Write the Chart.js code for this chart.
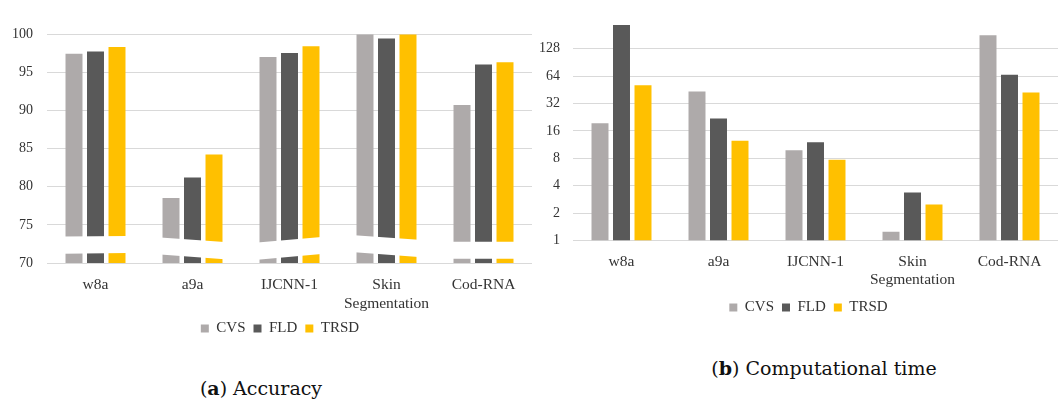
<!DOCTYPE html>
<html>
<head>
<meta charset="utf-8">
<script src="https://cdn.jsdelivr.net/npm/chart.js@4.4.0/dist/chart.umd.min.js"></script>
<style>
  body { margin: 0; background: #fff; width: 1058px; height: 400px; position: relative; overflow: hidden; }
  #accWrap { position: absolute; left: 0; top: 0; }
  #timeWrap { position: absolute; left: 535px; top: 0; }
  .caption { position: absolute; font-family: 'DejaVu Serif', serif; font-size: 19px; color: #111; white-space: nowrap; transform: translate(-50%, -50%); }
</style>
</head>
<body>
<div id="accWrap"><canvas id="acc" width="540" height="346"></canvas></div>
<div id="timeWrap"><canvas id="time" width="523" height="325"></canvas></div>
<div class="caption" style="left:261px; top:388px;">(<b>a</b>) Accuracy</div>
<div class="caption" style="left:824px; top:368px;">(<b>b</b>) Computational time</div>
<script>
// categories and series
const categories = ["w8a", "a9a", "IJCNN-1", ["Skin", "Segmentation"], "Cod-RNA"];
const seriesNames = ["CVS", "FLD", "TRSD"];

// (a) accuracy, %
const accCVS = [97.4, 78.5, 97.0, 99.95, 90.7];
const accFLD = [97.7, 81.2, 97.5, 99.4, 96.0];
const accTRSD = [98.3, 84.2, 98.4, 99.95, 96.3];
const accTicks = [70, 75, 80, 85, 90, 95, 100];

// (b) computational time, log2 axis
const timeCVS = [19.4, 43.4, 9.8, 1.25, 180];
const timeFLD = [234, 21.9, 12.0, 3.36, 66.3];
const timeTRSD = [50.9, 12.5, 7.7, 2.48, 42.4];
const timeTicks = [1, 2, 4, 8, 16, 32, 64, 128];

// axis break on the accuracy bars (value at middle bar, tilt per bar)
const breakLow = [71.25, 70.8, 70.8, 71.1, 70.55];
const breakTilt = [0.03, -0.2, 0.25, -0.2, 0];
const breakGap = 2.25;

const colors = ["#AEAAAA", "#595959", "#FFC000"];

Chart.defaults.font.family = "'Liberation Serif', serif";
Chart.defaults.font.size = 15;
Chart.defaults.color = "#333";

function makeSets(arrs) {
    return arrs.map((d, k) => ({
        label: seriesNames[k],
        data: d,
        backgroundColor: colors[k],
        borderWidth: 0,
        categoryPercentage: 0.665,
        barPercentage: 0.79,
    }));
}

const legendOpts = {
    position: "bottom",
    labels: { boxWidth: 8, boxHeight: 8, padding: 8, color: "#333", font: { size: 15 } },
};

// white slanted band to show the broken axis
const breakPlugin = {
    id: "breakBand",
    afterDatasetsDraw(chart) {
        const ctx = chart.ctx;
        const y = chart.scales.y;
        const m0 = chart.getDatasetMeta(0), m1 = chart.getDatasetMeta(1), m2 = chart.getDatasetMeta(2);
        ctx.save();
        ctx.fillStyle = "#ffffff";
        for (let i = 0; i < categories.length; i++) {
            const left = m0.data[i].x - m0.data[i].width / 2 - 2;
            const right = m2.data[i].x + m2.data[i].width / 2 + 2;
            const cx = m1.data[i].x;
            const slot = m1.data[i].x - m0.data[i].x;
            const f = (px) => breakLow[i] + breakTilt[i] * (px - cx) / slot;
            ctx.beginPath();
            ctx.moveTo(left, y.getPixelForValue(f(left)));
            ctx.lineTo(right, y.getPixelForValue(f(right)));
            ctx.lineTo(right, y.getPixelForValue(f(right) + breakGap));
            ctx.lineTo(left, y.getPixelForValue(f(left) + breakGap));
            ctx.closePath();
            ctx.fill();
        }
        ctx.restore();
    },
};

// nudge legend sideways
const legendShift = (dx) => ({
    id: "legendShift",
    afterLayout(chart) {
        chart.legend.left += dx;
        chart.legend.right += dx;
    },
});

new Chart(document.getElementById("acc"), {
    type: "bar",
    data: { labels: categories, datasets: makeSets([accCVS, accFLD, accTRSD]) },
    plugins: [breakPlugin, legendShift(14)],
    options: {
        responsive: false,
        animation: false,
        layout: { padding: { top: 34, right: 8, left: 0, bottom: 0 } },
        plugins: { legend: legendOpts, tooltip: { enabled: false } },
        scales: {
            x: {
                grid: { display: false },
                border: { display: false },
                ticks: { padding: 5, maxRotation: 0, autoSkip: false, font: { size: 15.5 } },
                afterFit: (s) => { s.height = 50; },
            },
            y: {
                min: 70,
                max: 100,
                afterBuildTicks: (s) => { s.ticks = accTicks.map(v => ({ value: v })); },
                grid: { color: "#D9D9D9", drawTicks: false },
                border: { display: false },
                ticks: { padding: 14, font: { size: 14 } },
                afterFit: (s) => { s.width = 47; },
            },
        },
    },
});

new Chart(document.getElementById("time"), {
    type: "bar",
    data: { labels: categories, datasets: makeSets([timeCVS, timeFLD, timeTRSD]) },
    plugins: [legendShift(12)],
    options: {
        responsive: false,
        animation: false,
        layout: { padding: { top: 9.5, right: 0, left: 0, bottom: 0 } },
        plugins: { legend: legendOpts, tooltip: { enabled: false } },
        scales: {
            x: {
                grid: { display: false },
                border: { display: false },
                ticks: { padding: 4, maxRotation: 0, autoSkip: false, font: { size: 15.5 } },
                afterFit: (s) => { s.height = 51.5; },
            },
            y: {
                type: "logarithmic",
                min: 1,
                max: 256,
                afterBuildTicks: (s) => { s.ticks = timeTicks.map(v => ({ value: v })); },
                grid: { color: "#D9D9D9", drawTicks: false },
                border: { display: false },
                ticks: { padding: 13, font: { size: 14 }, callback: (v) => String(v) },
                afterFit: (s) => { s.width = 38; },
            },
        },
    },
});
</script>
</body>
</html>
